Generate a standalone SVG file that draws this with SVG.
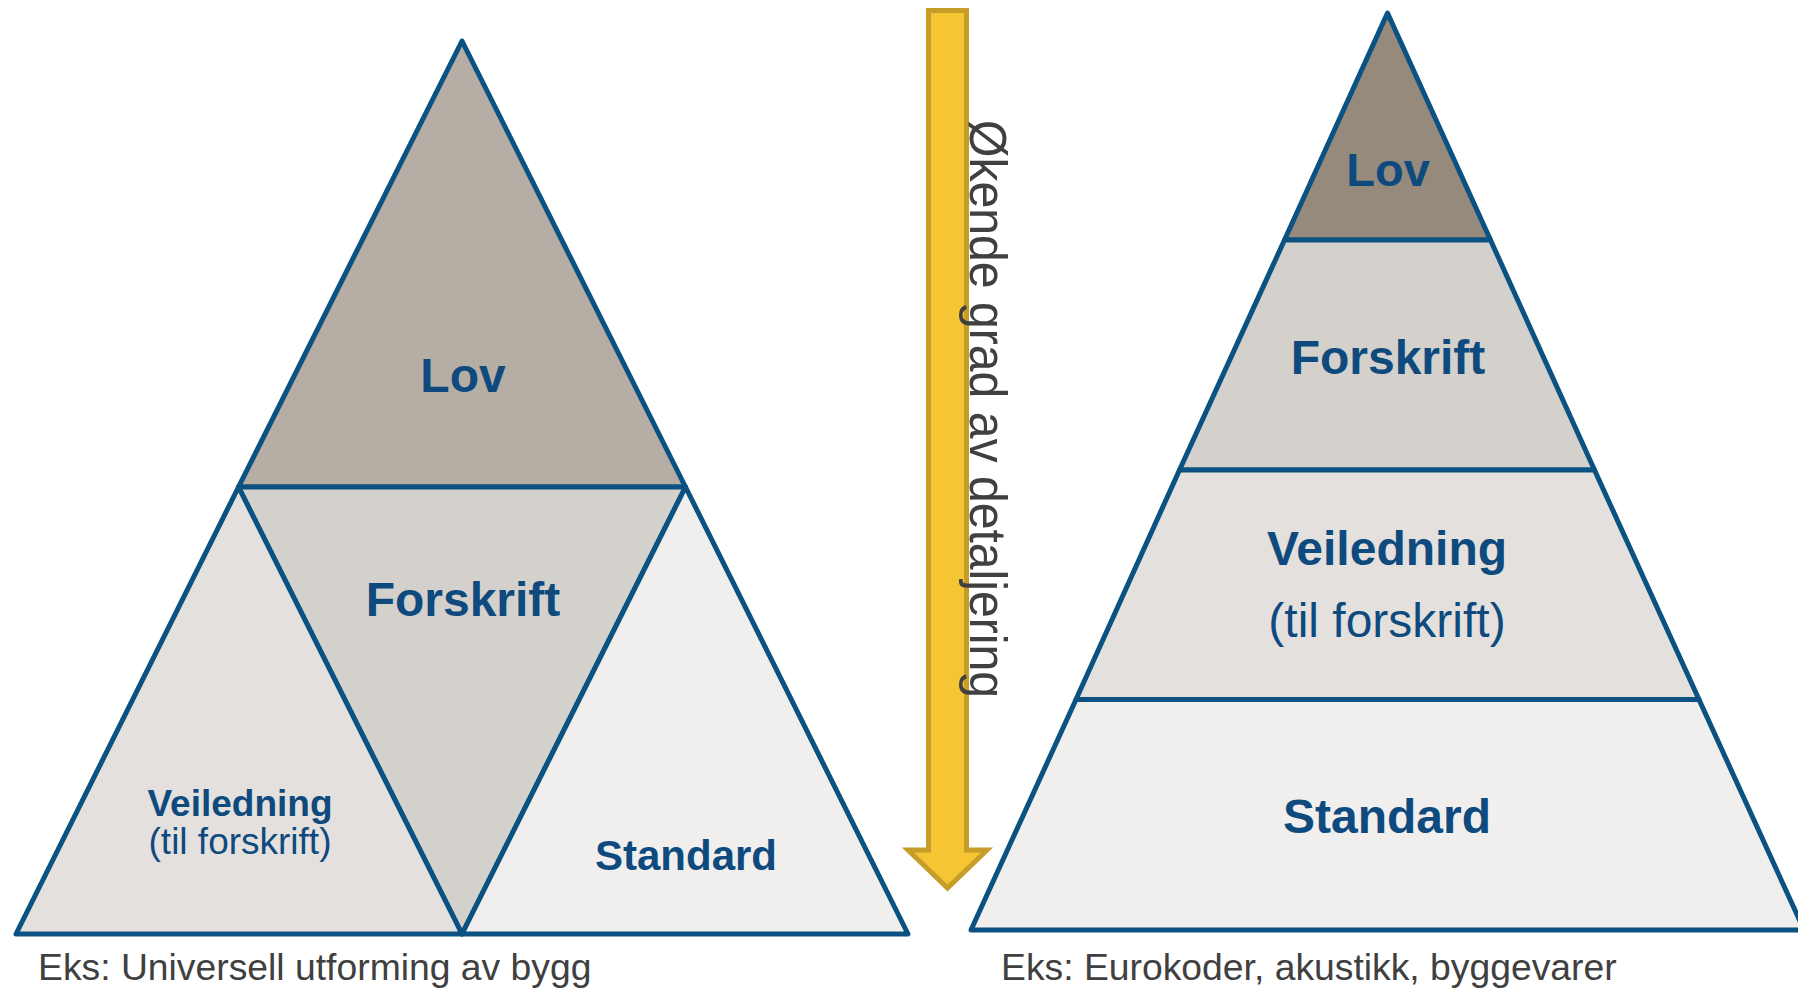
<svg xmlns="http://www.w3.org/2000/svg" width="1798" height="990" viewBox="0 0 1798 990">
<style>
.shape{stroke:#0B5282;stroke-width:5;stroke-linejoin:round}
.lbl{font-family:"Liberation Sans",Arial,sans-serif;fill:#0E4A7E;text-anchor:middle}
.b{font-weight:bold}
.note{font-family:"Liberation Sans",Arial,sans-serif;fill:#404040;font-size:37.3px}
</style>
<rect width="1798" height="990" fill="#FFFFFF"/>
<g id="left-pyramid">
  <g id="left-lov">
    <polygon class="shape" fill="#B6AEA5" points="462,41 685.5,487 238.5,487"/>
    <text class="lbl b" x="463" y="392" font-size="48">Lov</text>
  </g>
  <g id="left-forskrift">
    <polygon class="shape" fill="#D4D1CC" points="238.5,487 685.5,487 462,934"/>
    <text class="lbl b" x="463" y="616" font-size="48">Forskrift</text>
  </g>
  <g id="left-veiledning">
    <polygon class="shape" fill="#E3E0DD" points="238.5,487 462,934 16,934"/>
    <text class="lbl b" x="240" y="816" font-size="37">Veiledning</text>
    <text class="lbl" x="240" y="854" font-size="37">(til forskrift)</text>
  </g>
  <g id="left-standard">
    <polygon class="shape" fill="#F0EFEE" points="685.5,487 908,934 462,934"/>
    <text class="lbl b" x="686" y="870" font-size="42">Standard</text>
  </g>
</g>
<g id="right-pyramid">
  <g id="right-lov">
    <polygon class="shape" fill="#958A7C" points="1387.5,13 1490.5,240 1284.5,240"/>
    <text class="lbl b" x="1388" y="186" font-size="47">Lov</text>
  </g>
  <g id="right-forskrift">
    <polygon class="shape" fill="#D4D1CC" points="1284.5,240 1490.5,240 1594.5,470 1179.5,470"/>
    <text class="lbl b" x="1388" y="374" font-size="48">Forskrift</text>
  </g>
  <g id="right-veiledning">
    <polygon class="shape" fill="#E3E0DD" points="1179.5,470 1594.5,470 1699,699.5 1076,699.5"/>
    <text class="lbl b" x="1387" y="565" font-size="48">Veiledning</text>
    <text class="lbl" x="1387" y="637" font-size="48">(til forskrift)</text>
  </g>
  <g id="right-standard">
    <polygon class="shape" fill="#F0EFEE" points="1076,699.5 1699,699.5 1804,930 971,930"/>
    <text class="lbl b" x="1387" y="833" font-size="48">Standard</text>
  </g>
</g>
<g id="connectors">
  <g id="arrow">
    <polygon fill="#F6C533" stroke="#C79D29" stroke-width="5" stroke-linejoin="miter" points="928.5,10.5 966.5,10.5 966.5,850 987,850 947.5,888 908,850 928.5,850"/>
    <text transform="translate(970,120) rotate(90)" font-family="Liberation Sans,Arial,sans-serif" font-size="52" fill="#404040" textLength="578" lengthAdjust="spacingAndGlyphs">Økende grad av detaljering</text>
  </g>
</g>
<g id="notes">
  <text class="note" x="38" y="980">Eks: Universell utforming av bygg</text>
  <text class="note" x="1001" y="980">Eks: Eurokoder, akustikk, byggevarer</text>
</g>
</svg>
